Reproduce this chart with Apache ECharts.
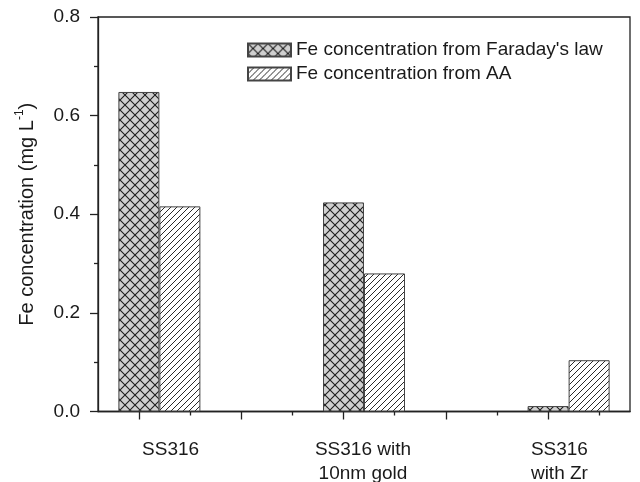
<!DOCTYPE html>
<html>
<head>
<meta charset="utf-8">
<script src="https://cdn.jsdelivr.net/npm/echarts@6/dist/echarts.min.js"></script>
<style>html,body{margin:0;padding:0;background:#fff}#c{width:640px;height:482px}</style>
</head>
<body>
<div id="c"></div>
<script>
const categories = ['SS316', 'SS316 with\n10nm gold', 'SS316\nwith Zr'];
const faradayValues = [0.648, 0.424, 0.011];
const aaValues = [0.416, 0.280, 0.104];
const seriesNames = ["Fe concentration from Faraday's law", 'Fe concentration from AA'];
const yTicks = [0, 0.2, 0.4, 0.6, 0.8];

// layout of group positions on the value x axis (Origin-style)
const groupStart = 1.2, groupStep = 2;
const groupX = categories.map((c, i) => groupStart + groupStep * i);
const labelShift = [0.11, -0.01, -0.09]; // text placement offsets as in the original
const labelX = groupX.map((g, i) => +(g + labelShift[i]).toFixed(3));
const majorX = [1, 2, 3, 4, 5];
const minorX = [1.5, 2.5, 3.5, 4.5, 5.5];

function crossHatch() {
  const s = 10, c = document.createElement('canvas');
  c.width = s; c.height = s;
  const g = c.getContext('2d');
  g.fillStyle = '#d0d0d0'; g.fillRect(0, 0, s, s);
  g.strokeStyle = '#1e1e1e'; g.lineWidth = 1.1;
  g.beginPath();
  g.moveTo(0, 0); g.lineTo(s, s);
  g.moveTo(s, 0); g.lineTo(0, s);
  g.stroke();
  return c;
}
function diagHatch() {
  const s = 6, c = document.createElement('canvas');
  c.width = s; c.height = s;
  const g = c.getContext('2d');
  g.fillStyle = '#ffffff'; g.fillRect(0, 0, s, s);
  g.strokeStyle = '#2a2a2a'; g.lineWidth = 1;
  g.beginPath();
  g.moveTo(-1, s + 1); g.lineTo(s + 1, -1);
  g.moveTo(-1, 1); g.lineTo(1, -1);
  g.moveTo(s - 1, s + 1); g.lineTo(s + 1, s - 1);
  g.stroke();
  return c;
}

const chart = echarts.init(document.getElementById('c'));
const font = 'Liberation Sans, Arial, sans-serif';
const axisColor = '#222';
const textColor = '#1a1a1a';
const xBase = {
  type: 'value', min: 0.6, max: 5.8, position: 'bottom',
  splitLine: { show: false },
  axisLine: { show: false }
};
chart.setOption({
  animation: false,
  grid: { left: 98, right: 10, top: 17, bottom: 70.5, show: true, borderColor: axisColor, borderWidth: 1.3, outerBoundsMode: 'none', containLabel: false },
  legend: {
    orient: 'vertical', left: 247, top: 40, padding: 0, icon: 'rect', itemWidth: 43, itemHeight: 13, itemGap: 4,
    textStyle: { fontFamily: font, fontSize: 19, color: textColor, lineHeight: 20 },
    data: seriesNames
  },
  xAxis: [
    Object.assign({}, xBase, {
      axisLine: { show: true, lineStyle: { color: axisColor, width: 1.3 } },
      axisTick: { show: true, customValues: majorX, length: 8, lineStyle: { color: axisColor, width: 1.3 } },
      axisLabel: {
        show: true, customValues: labelX, margin: 26,
        fontFamily: font, fontSize: 19, color: textColor, lineHeight: 24,
        formatter: v => { const i = labelX.findIndex(g => Math.abs(g - v) < 1e-6); return i >= 0 ? categories[i] : ''; }
      }
    }),
    Object.assign({}, xBase, {
      axisTick: { show: true, customValues: minorX, length: 4, lineStyle: { color: axisColor, width: 1.3 } },
      axisLabel: { show: false }
    })
  ],
  yAxis: {
    type: 'value', min: 0, max: 0.8, interval: 0.2,
    axisLine: { show: true, lineStyle: { color: axisColor, width: 1.3 } },
    axisTick: { show: true, length: 8, lineStyle: { color: axisColor, width: 1.3 } },
    minorTick: { show: true, splitNumber: 2, length: 4, lineStyle: { color: axisColor, width: 1.3 } },
    splitLine: { show: false },
    axisLabel: { margin: 18, fontFamily: font, fontSize: 19, color: textColor, formatter: v => v.toFixed(1) },
    name: '{a|Fe concentration (mg L}{s|-1}{a|)}',
    nameLocation: 'middle', nameRotate: 90, nameGap: 58,
    nameTextStyle: {
      rich: {
        a: { fontFamily: font, fontSize: 20, color: textColor, lineHeight: 26 },
        s: { fontFamily: font, fontSize: 12, color: textColor, lineHeight: 26, verticalAlign: 'top', padding: [0, 0, 12, 0] }
      }
    }
  },
  series: [
    {
      name: seriesNames[0], type: 'bar', xAxisIndex: 0, barWidth: 41, barGap: 0,
      itemStyle: { color: { image: crossHatch(), repeat: 'repeat' }, borderColor: '#444', borderWidth: 1 },
      data: faradayValues.map((v, i) => [groupX[i], v])
    },
    {
      name: seriesNames[1], type: 'bar', xAxisIndex: 0, barWidth: 41, barGap: 0,
      itemStyle: { color: { image: diagHatch(), repeat: 'repeat' }, borderColor: '#444', borderWidth: 1 },
      data: aaValues.map((v, i) => [groupX[i], v])
    }
  ]
});
</script>
</body>
</html>
